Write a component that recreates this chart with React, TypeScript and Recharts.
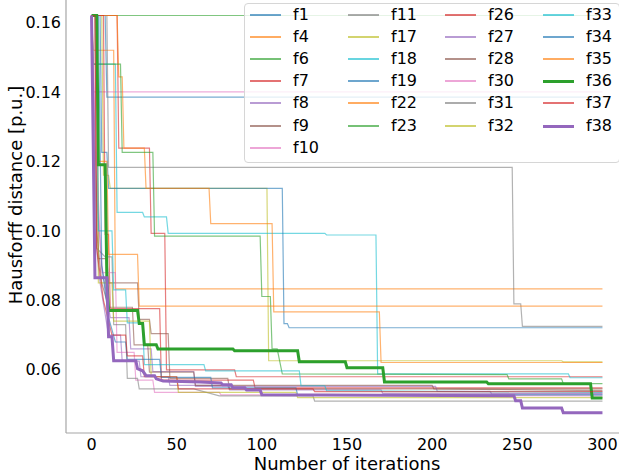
import { Label, Line, LineChart, XAxis, YAxis } from "recharts";

type Pt = [number, number];

const xTicks = [0, 50, 100, 150, 200, 250, 300];
const yTicks = [0.06, 0.08, 0.1, 0.12, 0.14, 0.16];

const names = [
  "f1", "f4", "f6", "f7", "f8", "f9", "f10",
  "f11", "f17", "f18", "f19", "f22", "f23",
  "f26", "f27", "f28", "f30", "f31", "f32",
  "f33", "f34", "f35", "f36", "f37", "f38",
];

const tab10 = ["#1f77b4", "#ff7f0e", "#2ca02c", "#d62728", "#9467bd", "#8c564b", "#e377c2", "#7f7f7f", "#bcbd22", "#17becf"];

// iteration, Hausdorff distance
const f1: Pt[] = [[0, 0.162], [8, 0.162], [9, 0.1385], [300, 0.1385]];
const f4: Pt[] = [[0, 0.162], [1, 0.152], [13, 0.152], [14, 0.0833], [300, 0.0833]];
const f6: Pt[] = [[0, 0.162], [300, 0.162]];
const f7: Pt[] = [[0, 0.162], [15, 0.162], [16, 0.1238], [34, 0.1238], [35, 0.0993], [43, 0.0993], [44, 0.06], [84, 0.06], [85, 0.058], [300, 0.058]];
const f8: Pt[] = [[0, 0.162], [2, 0.1], [5, 0.085], [10, 0.07], [17, 0.07], [18, 0.0625], [28, 0.0625], [29, 0.058], [45, 0.058], [46, 0.0555], [80, 0.0555], [81, 0.0542], [170, 0.0542], [171, 0.0532], [300, 0.0532]];
const f9: Pt[] = [[0, 0.162], [3, 0.162], [4, 0.092], [9, 0.092], [10, 0.085], [27, 0.085], [28, 0.0745], [34, 0.0745], [35, 0.0704], [45, 0.0704], [46, 0.0575], [80, 0.0575], [81, 0.0545], [300, 0.0545]];
const f10: Pt[] = [[0, 0.162], [1, 0.14], [300, 0.14]];
const f11: Pt[] = [[0, 0.162], [9, 0.162], [10, 0.1183], [247, 0.1183], [248, 0.079], [252, 0.079], [253, 0.0725], [300, 0.0725]];
const f17: Pt[] = [[0, 0.162], [6, 0.162], [7, 0.116], [10, 0.116], [11, 0.1122], [103, 0.1122], [104, 0.0626], [276, 0.0626], [277, 0.0623], [300, 0.0623]];
const f18: Pt[] = [[0, 0.162], [1, 0.148], [14, 0.148], [15, 0.1053], [30, 0.1053], [31, 0.104], [44, 0.104], [45, 0.0993], [137, 0.0993], [138, 0.0988], [167, 0.0988], [168, 0.0588], [280, 0.0588], [281, 0.0577], [300, 0.0577]];
const f19: Pt[] = [[0, 0.162], [5, 0.162], [6, 0.1226], [9, 0.1226], [10, 0.1122], [112, 0.1122], [113, 0.0733], [115, 0.0733], [116, 0.0721], [300, 0.0721]];
const f22: Pt[] = [[0, 0.162], [15, 0.162], [16, 0.1443], [18, 0.1443], [19, 0.1238], [31, 0.1238], [32, 0.1122], [69, 0.1122], [70, 0.1021], [106, 0.1021], [107, 0.0767], [169, 0.0767], [170, 0.0621], [300, 0.0621]];
const f23: Pt[] = [[0, 0.162], [1, 0.148], [17, 0.148], [18, 0.1226], [36, 0.1226], [37, 0.0985], [99, 0.0985], [100, 0.0811], [105, 0.0811], [106, 0.066], [109, 0.066], [112, 0.0588], [244, 0.0586], [245, 0.0574], [276, 0.0574], [277, 0.056], [300, 0.056]];
const f26: Pt[] = [[0, 0.162], [7, 0.162], [8, 0.099], [10, 0.099], [11, 0.0776], [40, 0.0776], [41, 0.057], [95, 0.057], [96, 0.0548], [300, 0.0548]];
const f27: Pt[] = [[0, 0.162], [3, 0.11], [6, 0.09], [11, 0.075], [22, 0.075], [23, 0.066], [35, 0.066], [36, 0.0595], [60, 0.0595], [61, 0.0552], [202, 0.0552], [203, 0.0538], [234, 0.0538], [235, 0.053], [300, 0.053]];
const f28: Pt[] = [[0, 0.162], [2, 0.162], [3, 0.1], [6, 0.085], [10, 0.078], [24, 0.078], [25, 0.0672], [33, 0.0672], [34, 0.0593], [60, 0.0593], [61, 0.0555], [200, 0.0555], [201, 0.0545], [300, 0.054]];
const f30: Pt[] = [[0, 0.162], [3, 0.12], [6, 0.088], [14, 0.088], [15, 0.065], [25, 0.065], [26, 0.057], [36, 0.057], [37, 0.0535], [75, 0.0535], [76, 0.0528], [300, 0.0525]];
const f31: Pt[] = [[0, 0.162], [3, 0.095], [8, 0.0925], [12, 0.0925], [13, 0.073], [20, 0.073], [21, 0.0575], [27, 0.0575], [28, 0.0545], [60, 0.0545], [75, 0.0525], [130, 0.0525], [131, 0.051], [300, 0.051]];
const f32: Pt[] = [[0, 0.162], [3, 0.162], [4, 0.085], [12, 0.085], [13, 0.074], [34, 0.074], [35, 0.058], [50, 0.058], [51, 0.0535], [120, 0.0535], [121, 0.052], [300, 0.052]];
const f33: Pt[] = [[0, 0.162], [3, 0.162], [4, 0.1], [12, 0.1], [13, 0.083], [20, 0.083], [21, 0.0735], [30, 0.0735], [31, 0.0615], [66, 0.0615], [67, 0.0597], [122, 0.0597], [123, 0.0554], [137, 0.0554], [138, 0.054], [300, 0.0535]];
const f34: Pt[] = [[0, 0.162], [4, 0.162], [6, 0.09], [10, 0.075], [14, 0.068], [20, 0.068], [21, 0.063], [40, 0.063], [41, 0.0578], [70, 0.0578], [71, 0.0548], [120, 0.0548], [121, 0.0528], [300, 0.0528]];
const f35: Pt[] = [[0, 0.162], [3, 0.162], [4, 0.12], [9, 0.12], [10, 0.0932], [27, 0.0932], [28, 0.0783], [300, 0.0783]];
const f36: Pt[] = [[0, 0.162], [3, 0.162], [4, 0.119], [8, 0.119], [9, 0.086], [10, 0.0771], [27, 0.0771], [28, 0.0733], [30, 0.0733], [31, 0.0672], [38, 0.0672], [39, 0.066], [83, 0.066], [84, 0.0655], [121, 0.0655], [122, 0.0623], [149, 0.0623], [150, 0.0606], [171, 0.0606], [172, 0.0565], [232, 0.0565], [233, 0.056], [293, 0.056], [294, 0.0519], [300, 0.0519]];
const f37: Pt[] = [[0, 0.162], [2, 0.162], [3, 0.095], [7, 0.08], [12, 0.07], [20, 0.07], [21, 0.064], [30, 0.064], [31, 0.058], [50, 0.058], [51, 0.0545], [130, 0.0545], [131, 0.0537], [300, 0.0537]];
const f38: Pt[] = [[0, 0.162], [2, 0.0865], [9, 0.0865], [10, 0.0695], [12, 0.0695], [13, 0.0626], [26, 0.0626], [27, 0.0603], [30, 0.0597], [32, 0.0583], [37, 0.0583], [38, 0.0574], [42, 0.0568], [64, 0.0565], [76, 0.0562], [77, 0.0557], [82, 0.0557], [83, 0.0548], [90, 0.0548], [91, 0.0542], [99, 0.0542], [100, 0.0528], [248, 0.0525], [249, 0.0511], [252, 0.0511], [253, 0.049], [276, 0.049], [277, 0.0476], [300, 0.0476]];

const runs = [f1, f4, f6, f7, f8, f9, f10, f11, f17, f18, f19, f22, f23, f26, f27, f28, f30, f31, f32, f33, f34, f35, f36, f37, f38];

const bold = ["f36", "f38"];
const font = "'DejaVu Sans', sans-serif";

function seriesStyle(name: string) {
  const i = names.indexOf(name);
  const thick = bold.includes(name);
  return { color: tab10[i % 10], width: thick ? 3 : 1.2, opacity: thick ? 1 : 0.6 };
}

function LegendBox() {
  const cols = [names.slice(0, 7), names.slice(7, 13), names.slice(13, 19), names.slice(19)];
  return (
    <div
      style={{
        position: "absolute",
        left: 244,
        top: 3,
        width: 376,
        height: 160,
        boxSizing: "border-box",
        border: "1px solid #d6d6d6",
        borderRadius: 4,
        background: "rgba(255,255,255,0.8)",
        fontFamily: font,
        fontSize: 16,
      }}
    >
      {cols.map((col, c) =>
        col.map((name, r) => {
          const s = seriesStyle(name);
          const top = Math.round(11 + r * 22.1);
          const h = s.width > 2 ? 3 : 2;
          return (
            <div key={name}>
              <div
                style={{
                  position: "absolute",
                  left: 5 + Math.round(c * 97.7),
                  top: top - Math.floor(h / 2),
                  width: 31,
                  height: h,
                  background: s.color,
                  opacity: s.width > 2 ? 1 : 0.65,
                }}
              />
              <div style={{ position: "absolute", left: 48 + Math.round(c * 97.7), top: top - 10, lineHeight: "19px" }}>{name}</div>
            </div>
          );
        })
      )}
    </div>
  );
}

export default function App() {
  return (
    <div style={{ position: "fixed", left: 0, top: 0, width: 619, height: 476, overflow: "hidden", background: "#fff" }}>
      <div style={{ position: "absolute", left: 0, top: -10 }}>
        <LineChart width={640} height={490} margin={{ top: 5, right: 12, left: 0, bottom: 0 }} style={{ fontFamily: font }}>
          <XAxis
            type="number"
            dataKey="x"
            domain={[-15, 315]}
            ticks={xTicks}
            allowDataOverflow
            height={47}
            tickLine={false}
            tickSize={0}
            tickMargin={6}
            axisLine={{ stroke: "#a6a6a6", strokeWidth: 1.2 }}
            tick={{ fill: "#000", fontSize: 16 }}
          >
            <Label value="Number of iterations" position="insideBottom" offset={10} style={{ fontSize: 18, fill: "#000" }} />
          </XAxis>
          <YAxis
            type="number"
            domain={[0.0418, 0.1679]}
            ticks={yTicks}
            allowDataOverflow
            width={66}
            tickLine={false}
            tickSize={0}
            tickMargin={5}
            tickFormatter={(v: number) => v.toFixed(2)}
            axisLine={{ stroke: "#a6a6a6", strokeWidth: 1.2 }}
            tick={{ fill: "#000", fontSize: 16 }}
          >
            <Label
              content={() => (
                <text x={17} y={205} transform="rotate(-90 17 205)" textAnchor="middle" dominantBaseline="middle" fontSize={18} fill="#000">
                  Hausforff distance [p.u.]
                </text>
              )}
            />
          </YAxis>
          {runs.map((run, i) => {
            const s = seriesStyle(names[i]);
            return (
              <Line
                key={names[i]}
                data={run.map(([x, y]) => ({ x, y }))}
                dataKey="y"
                type="linear"
                stroke={s.color}
                strokeWidth={s.width}
                strokeOpacity={s.opacity}
                dot={false}
                activeDot={false}
                isAnimationActive={false}
              />
            );
          })}
        </LineChart>
      </div>
      <LegendBox />
    </div>
  );
}
